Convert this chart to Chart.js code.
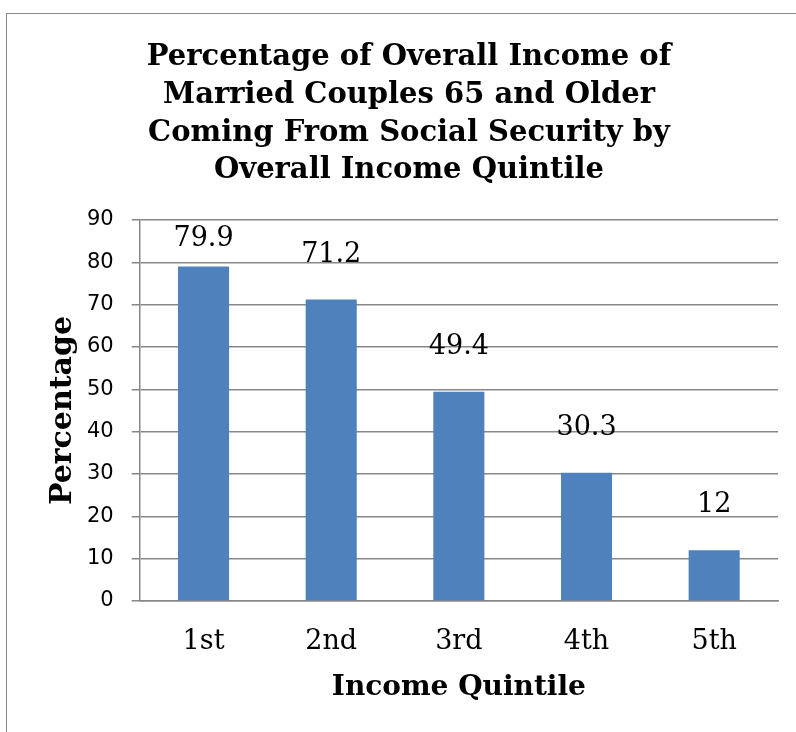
<!DOCTYPE html>
<html>
<head>
<meta charset="utf-8">
<script src="https://cdn.jsdelivr.net/npm/chart.js@4.4.1/dist/chart.umd.min.js"></script>
<style>
  html, body { margin: 0; padding: 0; background: #fff; overflow: hidden; width: 796px; height: 732px; }
  #wrap { position: absolute; left: 6px; top: 13px; width: 806px; height: 730px; border: 1px solid #8a8a8a; background: #fff; }
  canvas { display: block; }
</style>
</head>
<body>
<div id="wrap"><canvas id="c" width="806" height="730"></canvas></div>
<script>
const titleLines = ["Percentage of Overall Income of", "Married Couples 65 and Older", "Coming From Social Security by", "Overall Income Quintile"];
const categories = ["1st", "2nd", "3rd", "4th", "5th"];
const barValues = [79, 71.2, 49.4, 30.3, 12];
const valueLabels = ["79.9", "71.2", "49.4", "30.3", "12"];
const yTickMin = 0;
const yTickMax = 90;
const yTickStep = 10;
const xAxisTitle = "Income Quintile";
const yAxisTitle = "Percentage";

const SERIF = "'DejaVu Serif', 'Liberation Serif', serif";
const SANS = "'DejaVu Sans', 'Liberation Sans', sans-serif";
const GRID = "#878787";

const labelPlugin = {
  id: 'valueLabels',
  afterDatasetsDraw(chart) {
    const ctx = chart.ctx;
    const meta = chart.getDatasetMeta(0);
    ctx.save();
    ctx.font = "27px " + SERIF;
    ctx.fillStyle = "#000";
    ctx.textAlign = "center";
    ctx.textBaseline = "middle";
    meta.data.forEach((bar, i) => {
      const y = Math.max(bar.y - 45, chart.chartArea.top + 19);
      ctx.fillText(valueLabels[i], bar.x, y);
    });
    ctx.restore();
  }
};

new Chart(document.getElementById('c'), {
  type: 'bar',
  data: {
    labels: categories,
    datasets: [{
      data: barValues,
      backgroundColor: '#4F81BD',
      borderWidth: 0,
      categoryPercentage: 0.4,
      barPercentage: 1.0
    }]
  },
  options: {
    responsive: false,
    animation: false,
    layout: { padding: { left: 33, right: 35, top: 0, bottom: 39 } },
    plugins: {
      legend: { display: false },
      tooltip: { enabled: false },
      title: {
        display: true,
        text: titleLines,
        color: '#000',
        font: { family: SERIF, weight: 'bold', size: 29, lineHeight: 1.31 },
        padding: { top: 24, bottom: 30 }
      }
    },
    scales: {
      x: {
        grid: { display: false, drawTicks: false },
        border: { display: true, color: GRID, width: 1.5 },
        ticks: { color: '#000', font: { family: SERIF, size: 27 }, padding: 25 },
        title: { display: true, text: xAxisTitle, color: '#000', font: { family: SERIF, weight: 'bold', size: 28 }, padding: { top: -12, bottom: 0 } }
      },
      y: {
        min: yTickMin,
        max: yTickMax,
        ticks: { stepSize: yTickStep, color: '#000', font: { family: SANS, size: 21 }, padding: 18 },
        grid: { color: GRID, lineWidth: 1.5, tickLength: 8, drawTicks: true },
        border: { display: true, color: GRID, width: 1.5 },
        title: { display: true, text: yAxisTitle, color: '#000', font: { family: SERIF, weight: 'bold', size: 30 }, padding: { top: 5, bottom: -12 } }
      }
    }
  },
  plugins: [labelPlugin]
});
</script>
</body>
</html>
